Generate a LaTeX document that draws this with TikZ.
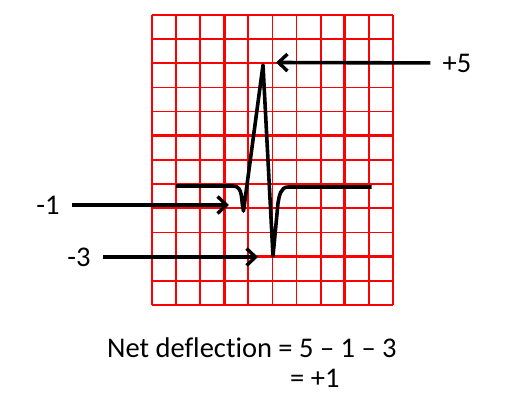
\documentclass[tikz,border=0pt]{standalone}
\usepackage{fontspec}
\setmainfont[Ligatures=NoCommon]{Carlito}
\usetikzlibrary{arrows.meta}

\tikzset{
  thinline/.style={red, line width=1.7pt},
  thickline/.style={red, line width=3pt},
  trace/.style={black, line width=3.6pt, line join=round},
  pointer/.style={black, line width=3.6pt, shorten <=12pt,
    -{Straight Barb[length=9pt, width=17pt, line width=3.4pt]}},
  amount/.style={inner sep=0pt, font=\fontsize{28.5}{32}\selectfont}
}

\begin{document}
\begin{tikzpicture}[x=1pt, y=-1pt]

  \useasboundingbox (0,0) rectangle (506,408);

  % Draw the thin grid lines
  \foreach \i in {0,1,...,10}
    \draw[thinline] ({151.7+\i*24.15},15) -- ({151.7+\i*24.15},304.8);
  \foreach \j in {0,1,...,12}
    \draw[thinline] (151.7,{15+\j*24.15}) -- (393.2,{15+\j*24.15});

  % Draw the thick grid lines
  \foreach \i in {3,8}
    \draw[thickline] ({151.7+\i*24.15},15) -- ({151.7+\i*24.15},304.8);
  \foreach \j in {5,10}
    \draw[thickline] (151.7,{15+\j*24.15}) -- (393.2,{15+\j*24.15});

  % Draw the QRS complex
  \draw[trace] (176,186) -- (233,186) to[out=0,in=105] (243.5,211)
    -- (263,65) -- (273,256) -- (278,203) to[out=80,in=180] (288,187)
    -- (371.7,187);

  % Arrow tips
  \coordinate (rpeak) at (276,62.5);
  \coordinate (qwave) at (229,205);
  \coordinate (swave) at (258,257);

  % Labels
  \node[amount] (plusfive) at (457,63) {+5};
  \node[amount] (minusone) at (48,205) {-1};
  \node[amount] (minusthree) at (79,257) {-3};

  \draw[pointer] (plusfive) -- (rpeak);
  \draw[pointer] (minusone) -- (qwave);
  \draw[pointer] (minusthree) -- (swave);

  % Sum below the grid
  \node[amount, anchor=base west] (net) at (107,357) {Net deflection = 5 – 1 – 3};
  \node[amount, anchor=base west] (result) at (290,387) {= +1};

\end{tikzpicture}
\end{document}
